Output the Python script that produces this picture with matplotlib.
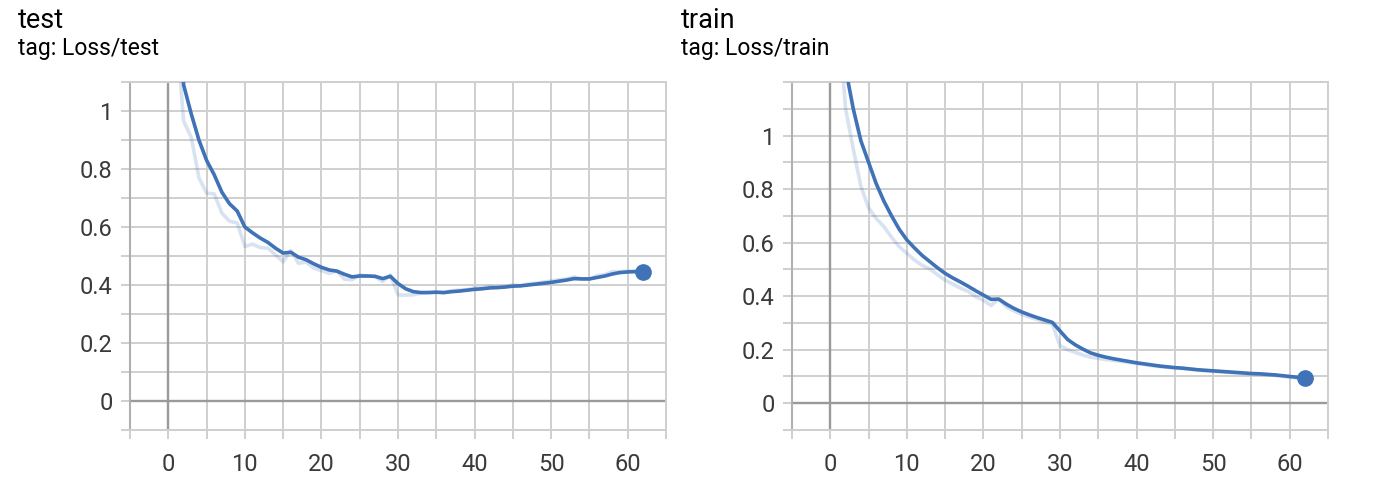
import matplotlib.pyplot as plt

plt.rcParams['font.family'] = ['Roboto', 'DejaVu Sans']

# steps logged
steps = list(range(63))

# Loss/test, raw and smoothed
test_raw = [2.2, 1.3, 0.965, 0.91, 0.77, 0.717, 0.714, 0.648, 0.62, 0.614,
            0.533, 0.541, 0.529, 0.527, 0.504, 0.48, 0.519, 0.475, 0.479, 0.458,
            0.45, 0.44, 0.449, 0.42, 0.418, 0.435, 0.431, 0.429, 0.412, 0.435,
            0.366, 0.365, 0.366, 0.372, 0.374, 0.376, 0.373, 0.38, 0.382, 0.384,
            0.39, 0.39, 0.395, 0.392, 0.395, 0.4, 0.398, 0.404, 0.406, 0.41,
            0.414, 0.418, 0.42, 0.428, 0.42, 0.42, 0.432, 0.436, 0.446, 0.446,
            0.448, 0.448, 0.447]
test_smooth = [2.2, 1.6, 1.09, 0.99, 0.90, 0.83, 0.78, 0.72, 0.68, 0.655,
               0.60, 0.58, 0.562, 0.547, 0.527, 0.51, 0.513, 0.496, 0.487, 0.473,
               0.461, 0.452, 0.448, 0.437, 0.428, 0.431, 0.431, 0.43, 0.422, 0.43,
               0.405, 0.387, 0.377, 0.374, 0.374, 0.375, 0.374, 0.377, 0.379, 0.382,
               0.385, 0.387, 0.39, 0.391, 0.393, 0.396, 0.397, 0.4, 0.403, 0.406,
               0.409, 0.413, 0.417, 0.422, 0.421, 0.421, 0.426, 0.431, 0.438, 0.443,
               0.445, 0.446, 0.446]

# Loss/train, raw and smoothed
train_raw = [2.3, 1.45, 1.1, 0.95, 0.81, 0.73, 0.69, 0.66, 0.62, 0.585,
             0.56, 0.535, 0.515, 0.502, 0.48, 0.46, 0.445, 0.43, 0.418, 0.398,
             0.385, 0.365, 0.39, 0.36, 0.345, 0.332, 0.322, 0.313, 0.303, 0.295,
             0.215, 0.2, 0.19, 0.18, 0.172, 0.168, 0.163, 0.16, 0.156, 0.152,
             0.148, 0.145, 0.14, 0.137, 0.134, 0.132, 0.13, 0.127, 0.124, 0.121,
             0.119, 0.117, 0.115, 0.113, 0.111, 0.109, 0.108, 0.106, 0.104, 0.101,
             0.097, 0.094, 0.091]
train_smooth = [2.3, 1.7, 1.25, 1.1, 0.98, 0.90, 0.82, 0.755, 0.70, 0.65,
                0.61, 0.58, 0.552, 0.529, 0.506, 0.485, 0.468, 0.453, 0.437, 0.42,
                0.404, 0.388, 0.389, 0.37, 0.354, 0.341, 0.33, 0.32, 0.311, 0.302,
                0.27, 0.238, 0.218, 0.202, 0.188, 0.179, 0.172, 0.166, 0.161, 0.156,
                0.151, 0.147, 0.143, 0.139, 0.136, 0.133, 0.131, 0.128, 0.125, 0.123,
                0.121, 0.119, 0.117, 0.115, 0.113, 0.111, 0.11, 0.108, 0.106, 0.103,
                0.1, 0.097, 0.094]

line_col = '#3f72b6'
grid_col = '#cfcfcf'

fig = plt.figure(figsize=(13.82, 4.82), dpi=100)

panels = [
    ('test', 'tag: Loss/test', test_raw, test_smooth, 1.1, 18, 130),
    ('train', 'tag: Loss/train', train_raw, train_smooth, 1.2, 681, 792),
]

for title, tag, raw, smooth, ytop, tx, axx in panels:
    ax = fig.add_axes([axx / 1382, 1 - 430 / 482, 536 / 1382, 348 / 482])
    fig.text(tx / 1382, 1 - 28 / 482, title, fontsize=19.5, va='baseline', ha='left')
    fig.text(tx / 1382, 1 - 55 / 482, tag, fontsize=16.5, va='baseline', ha='left')

    ax.plot(steps, raw, color=line_col, alpha=0.2, lw=2.6, zorder=3)
    ax.plot(steps, smooth, color=line_col, lw=2.6, zorder=4)
    ax.plot(steps[-1], smooth[-1], 'o', color=line_col, ms=11, zorder=5)

    ax.axhline(0, color='#9a9a9a', lw=1.7, zorder=2)
    ax.axvline(0, color='#9a9a9a', lw=1.7, zorder=2)

    ax.set_xlim(-5, 65)
    ax.set_ylim(-0.1, ytop)

    xt = list(range(-5, 70, 5))
    ax.set_xticks(xt)
    ax.set_xticklabels([str(v) if v >= 0 and v % 10 == 0 and v <= 60 else '' for v in xt])
    n = int(round((ytop + 0.1) / 0.1)) + 1
    yt = [round(-0.1 + 0.1 * i, 1) for i in range(n)]
    ylab = {0.0: '0', 0.2: '0.2', 0.4: '0.4', 0.6: '0.6', 0.8: '0.8', 1.0: '1'}
    ax.set_yticks(yt)
    ax.set_yticklabels([ylab.get(v, '') for v in yt])

    ax.grid(True, color=grid_col, lw=1.4)
    ax.set_axisbelow(True)
    ax.tick_params(axis='both', length=6.5, width=1.4, color=grid_col,
                   labelsize=17, labelcolor='#3a3a3a')
    ax.tick_params(axis='x', pad=10)
    ax.tick_params(axis='y', pad=6)
    for s in ['top', 'right', 'bottom']:
        ax.spines[s].set_color(grid_col)
        ax.spines[s].set_linewidth(1.4)
    ax.spines['left'].set_color('#b0b0b0')
    ax.spines['left'].set_linewidth(1.5)

fig.savefig('out.png', dpi=100)
